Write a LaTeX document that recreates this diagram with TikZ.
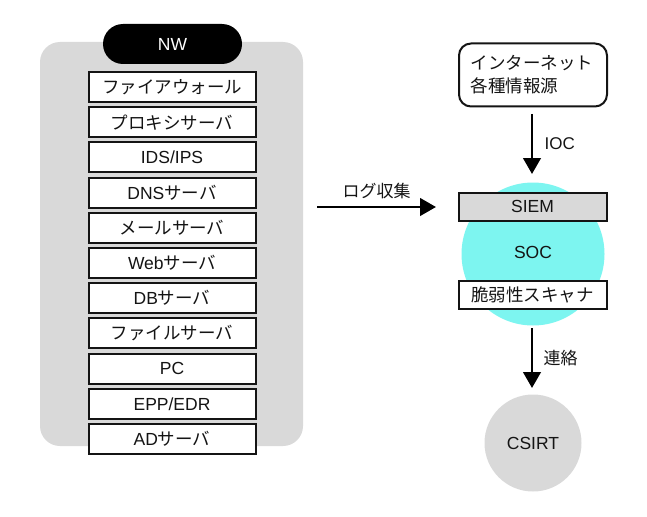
\documentclass[tikz,border=0pt]{standalone}
\usepackage{fontspec}
\setmainfont{Liberation Sans}
\newfontfamily\jp{Noto Sans CJK JP}
\usetikzlibrary{arrows.meta}
\definecolor{panelgray}{RGB}{217,217,217}
\definecolor{soccyan}{RGB}{125,245,240}
\definecolor{ink}{RGB}{20,20,20}
\begin{document}
\begin{tikzpicture}[x=1pt,y=-1pt,
  every node/.style={font=\fontsize{17.5}{22}\selectfont, text=ink},
  item/.style={draw=ink, line width=2pt, fill=white, minimum width=167pt, minimum height=30pt, inner sep=0pt},
  flow/.style={line width=2.8pt, draw=black, -{Triangle[length=16pt,width=17.5pt]}},
  lbl/.style={font=\fontsize{17}{20}\selectfont}]
\useasboundingbox (0,0) rectangle (647,516);
% left panel
\fill[panelgray, rounded corners=20pt] (40,42) rectangle (303,446);
\node[fill=black, rounded corners=20pt, minimum width=139pt, minimum height=40pt, inner sep=0pt, text=white] (nw) at (172.5,44) {NW};
\foreach \t [count=\i from 0] in {{\jp ファイアウォール},{\jp プロキシサーバ},IDS/IPS,DNS{\jp サーバ},{\jp メールサーバ},Web{\jp サーバ},DB{\jp サーバ},{\jp ファイルサーバ},PC,EPP/EDR,AD{\jp サーバ}}{
  \node[item] (b\i) at (172,{87+35.2*\i}) {\t};
}
% log arrow
\coordinate (la) at (317,207);
\coordinate (lb) at (436,207);
\draw[flow] (la) -- node[lbl, above=3pt] (loglbl) {\jp ログ収集} (lb);
% internet box
\node[draw=ink, line width=2pt, rounded corners=12pt, minimum width=148pt, minimum height=63pt, align=left, inner sep=0pt, text width=125pt, font=\jp\fontsize{17.5}{23}\selectfont] (inet) at (533,75) {インターネット\\各種情報源};
% SOC
\node[circle, fill=soccyan, minimum size=143pt, inner sep=0pt] (soc) at (533,254) {};
\node (soctxt) at (533,252) {SOC};
\node[draw=ink, line width=2pt, fill=panelgray, minimum width=148pt, minimum height=28pt, inner sep=0pt] (siem) at (532.5,206.5) {SIEM};
\node[draw=ink, line width=2pt, fill=white, minimum width=148pt, minimum height=28pt, inner sep=0pt] (vuln) at (532.5,295) {\jp 脆弱性スキャナ};
% CSIRT
\node[circle, fill=panelgray, minimum size=97pt, inner sep=0pt] (csirt) at (533,443) {CSIRT};
% arrows
\coordinate (ia) at (532,114);
\coordinate (ib) at (532,174);
\draw[flow] (ia) -- node[lbl, right=8pt] (ioc) {IOC} (ib);
\coordinate (ca) at (532,328);
\coordinate (cb) at (532,388);
\draw[flow] (ca) -- node[lbl, right=7pt, font=\jp\fontsize{17}{20}\selectfont] (renraku) {連絡} (cb);
\end{tikzpicture}
\end{document}
